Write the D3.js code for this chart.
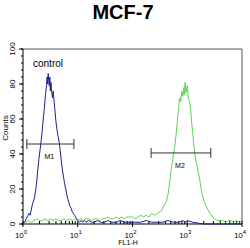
<!doctype html>
<html>
  <head>
    <script src="https://cdn.jsdelivr.net/npm/d3@7"></script>
    <style>
      body { margin: 0; background: #fff; }
      text { font-family: Arial, "Liberation Sans", sans-serif; }
    </style>
  </head>
  <body>
    <script>
      var w_svg = 250, h_svg = 248;
      var margin = {left: 23, right: 8, top: 49, bottom: 24};

      // histogram traces, x as log10(FL1-H), y as counts
      var blueLog   = [0.00,0.03,0.06,0.09,0.11,0.13,0.15,0.17,0.19,0.21,0.23,0.25,0.27,0.29,0.31,0.33,0.35,0.37,0.39,0.41,0.43,0.44,0.45,0.46,0.47,0.48,0.49,0.50,0.51,0.52,0.53,0.54,0.55,0.56,0.58,0.60,0.62,0.64,0.66,0.68,0.70,0.72,0.74,0.76,0.78,0.80,0.82,0.84,0.86,0.88,0.90,0.92,0.94,0.96,0.98,1.00,1.03,1.06,1.09,1.12,1.15,1.20,1.25,1.30,1.36,1.42,1.48,1.55,1.62,1.70,1.78,1.86,1.95,2.05,2.15,2.25,2.35,2.45,2.55,2.65,2.75,2.85,2.92,2.96,3.00,3.10,3.30,3.60,4.00];
      var blueCount = [0,1,3,5,6,5,8,11,13,15,19,24,31,37,42,47,53,60,66,74,79,84,80,86,82,79,84,76,81,77,74,72,76,73,66,59,54,50,47,42,36,31,27,23,20,17,14,12,10,9,7,6,5,4,3,2,1,2,1,2,1,2,1,1,2,1,1,2,1,1,2,1,1,1,1,2,1,1,1,2,1,1,2,1,2,1,0,0,0];

      var greenLog   = [0.05,0.10,0.15,0.20,0.25,0.30,0.35,0.40,0.45,0.50,0.55,0.60,0.65,0.70,0.75,0.80,0.85,0.90,0.95,1.00,1.05,1.10,1.15,1.20,1.25,1.30,1.35,1.40,1.45,1.50,1.55,1.60,1.65,1.70,1.75,1.80,1.85,1.90,1.95,2.00,2.05,2.10,2.15,2.20,2.25,2.30,2.35,2.40,2.45,2.50,2.54,2.58,2.62,2.65,2.68,2.71,2.74,2.77,2.80,2.82,2.84,2.86,2.88,2.90,2.92,2.94,2.95,2.96,2.98,3.00,3.02,3.04,3.06,3.08,3.10,3.12,3.14,3.16,3.18,3.20,3.23,3.26,3.29,3.32,3.35,3.38,3.42,3.46,3.50,3.55,3.60,3.65,3.70,3.75,3.80,3.85,3.90,3.95,4.00];
      var greenCount = [1,2,1,2,3,2,2,3,2,3,2,3,2,2,3,2,3,2,3,2,3,2,3,3,2,3,3,2,3,3,4,3,3,4,3,4,3,4,4,4,3,4,5,4,5,4,6,5,6,7,8,11,13,17,24,32,38,44,52,59,66,72,70,76,73,78,74,81,75,79,72,70,66,58,52,45,40,36,33,30,25,19,15,12,10,8,6,4,3,2,2,2,1,2,2,1,2,1,2];

      // gate markers
      var markerNames = ["M1","M2"];
      var markerFrom  = [0.07, 2.34];
      var markerTo    = [0.93, 3.43];
      var markerLevel = [45.7, 40.6];

      var yTicks = [0,20,40,60,80,100];
      var xDecades = [0,1,2,3,4];

      var svg = d3.select("body").append("svg")
                  .attr("width", w_svg).attr("height", h_svg);

      var x = d3.scaleLog().domain([1, 1e4]).range([margin.left, w_svg - margin.right]);
      var y = d3.scaleLinear().domain([0, 100]).range([h_svg - margin.bottom, margin.top]);

      // title
      svg.append("text").attr("x", 123).attr("y", 19)
         .attr("text-anchor", "middle")
         .style("font-size", "20px").style("font-weight", "bold")
         .text("MCF-7");

      // frame (top + right)
      svg.append("path")
         .attr("d", "M" + x(1) + "," + y(100) + "H" + x(1e4) + "V" + y(0))
         .attr("fill", "none").attr("stroke", "#555").attr("stroke-width", 1);

      // y axis
      var yAxis = svg.append("g").attr("transform", "translate(" + x(1) + ",0)");
      yAxis.append("line").attr("y1", y(0)).attr("y2", y(100)).attr("stroke", "#000");
      yAxis.selectAll(".minor").data(d3.range(0, 101, 4)).enter().append("line")
           .attr("x1", -2).attr("x2", 0)
           .attr("y1", function(d){ return y(d); }).attr("y2", function(d){ return y(d); })
           .attr("stroke", "#000");
      yAxis.selectAll(".major").data(yTicks).enter().append("line")
           .attr("x1", -4).attr("x2", 0)
           .attr("y1", function(d){ return y(d); }).attr("y2", function(d){ return y(d); })
           .attr("stroke", "#000");
      yAxis.selectAll("text").data(yTicks).enter().append("text")
           .attr("transform", function(d){ return "translate(-8," + y(d) + ") rotate(-90)"; })
           .attr("text-anchor", "middle")
           .style("font-size", "8px")
           .text(function(d){ return d; });

      svg.append("text")
         .attr("transform", "translate(8,128) rotate(-90)")
         .attr("text-anchor", "middle")
         .style("font-size", "8px")
         .text("Counts");

      // x axis
      var xAxis = svg.append("g").attr("transform", "translate(0," + y(0) + ")");
      xAxis.append("line").attr("x1", x(1)).attr("x2", x(1e4)).attr("stroke", "#000").attr("stroke-width", 1.2);
      var minors = [];
      xDecades.slice(0, 4).forEach(function(k){
        for (var m = 2; m < 10; m++) minors.push(m * Math.pow(10, k));
      });
      xAxis.selectAll(".minor").data(minors).enter().append("line")
           .attr("x1", function(d){ return x(d); }).attr("x2", function(d){ return x(d); })
           .attr("y1", -3).attr("y2", 0).attr("stroke", "#000");
      xAxis.selectAll(".major").data(xDecades).enter().append("line")
           .attr("x1", function(d){ return x(Math.pow(10, d)); }).attr("x2", function(d){ return x(Math.pow(10, d)); })
           .attr("y1", -3).attr("y2", 3).attr("stroke", "#000");
      var xl = xAxis.selectAll("text").data(xDecades).enter().append("text")
           .attr("x", function(d){ return x(Math.pow(10, d)) - 2; })
           .attr("y", 14)
           .attr("text-anchor", "middle")
           .style("font-size", "8px");
      xl.append("tspan").text("10");
      xl.append("tspan").attr("dy", -4).style("font-size", "6px").text(function(d){ return d; });

      svg.append("text").attr("x", 128).attr("y", 245)
         .attr("text-anchor", "middle")
         .style("font-size", "7px")
         .text("FL1-H");

      // traces
      var line = d3.line()
                   .x(function(d){ return x(Math.pow(10, d[0])); })
                   .y(function(d){ return y(d[1]); });

      svg.append("path")
         .datum(d3.zip(greenLog, greenCount))
         .attr("d", line)
         .attr("fill", "none").attr("stroke", "#5ad356").attr("stroke-width", 1);

      svg.append("path")
         .datum(d3.zip(blueLog, blueCount))
         .attr("d", line)
         .attr("fill", "none").attr("stroke", "#1f1f88").attr("stroke-width", 1);

      // markers
      var mk = svg.selectAll(".marker").data(markerNames).enter().append("g");
      mk.append("line")
        .attr("x1", function(d, i){ return x(Math.pow(10, markerFrom[i])); })
        .attr("x2", function(d, i){ return x(Math.pow(10, markerTo[i])); })
        .attr("y1", function(d, i){ return y(markerLevel[i]); })
        .attr("y2", function(d, i){ return y(markerLevel[i]); })
        .attr("stroke", "#333");
      [markerFrom, markerTo].forEach(function(arr){
        mk.append("line")
          .attr("x1", function(d, i){ return x(Math.pow(10, arr[i])); })
          .attr("x2", function(d, i){ return x(Math.pow(10, arr[i])); })
          .attr("y1", function(d, i){ return y(markerLevel[i]) - 5; })
          .attr("y2", function(d, i){ return y(markerLevel[i]) + 5; })
          .attr("stroke", "#333");
      });
      mk.append("text")
        .attr("x", function(d, i){ return (x(Math.pow(10, markerFrom[i])) + x(Math.pow(10, markerTo[i]))) / 2 - 1; })
        .attr("y", function(d, i){ return y(markerLevel[i]) + 15; })
        .attr("text-anchor", "middle")
        .style("font-size", "7px")
        .text(function(d){ return d; });

      svg.append("text").attr("x", 33).attr("y", 67)
         .style("font-size", "10px")
         .text("control");
    </script>
  </body>
</html>
